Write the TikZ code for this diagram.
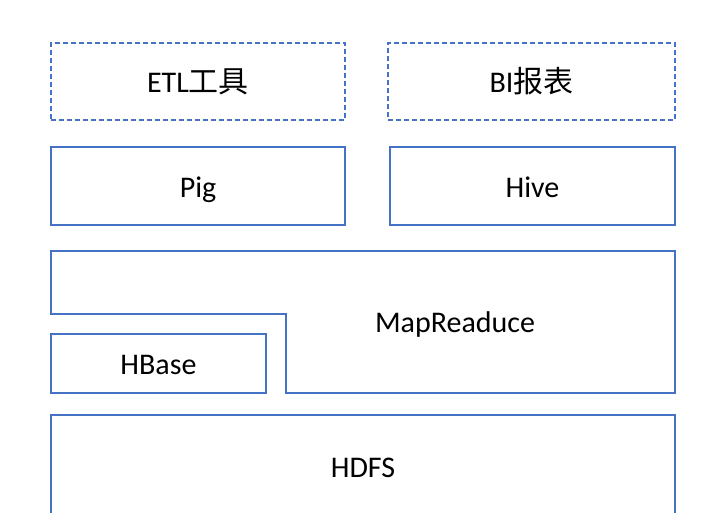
\documentclass[tikz,border=0pt]{standalone}
\usepackage{fontspec}
\setmainfont{Carlito}
\newfontfamily\cjk{Noto Sans CJK SC}
\definecolor{layerblue}{RGB}{68,114,196}
\begin{document}
\begin{tikzpicture}[x=1pt,y=-1pt,
  layer/.style={draw=layerblue, line width=1.5pt, rectangle, inner sep=0pt},
  tool/.style={layer, dash pattern=on 5pt off 3pt},
  every node/.style={text height=22pt, text depth=0pt},
  font=\fontsize{30}{35}\selectfont]
\clip (0,0) rectangle (720,513);
\fill[white] (0,0) rectangle (720,513);

\node[tool, minimum width=294pt, minimum height=77pt] (etl) at (198,81.5) {ETL\cjk 工具};
\node[tool, minimum width=287pt, minimum height=77pt] (bi) at (531.5,81.5) {BI\cjk 报表};

\node[layer, minimum width=294pt, minimum height=78pt] (pig) at (198,186) {Pig};
\node[layer, minimum width=285pt, minimum height=78pt] (hive) at (532.5,186) {Hive};

\draw[draw=layerblue, line width=1.5pt] (51,251) -- (675,251) -- (675,393) -- (286,393) -- (286,314) -- (51,314) -- cycle;
\node (mr) at (455,321) {MapReaduce};
\node[layer, minimum width=215pt, minimum height=59pt] (hbase) at (158.5,363.5) {HBase};

\node[layer, minimum width=624pt, minimum height=102pt] (hdfs) at (363,466) {HDFS};
\end{tikzpicture}
\end{document}
